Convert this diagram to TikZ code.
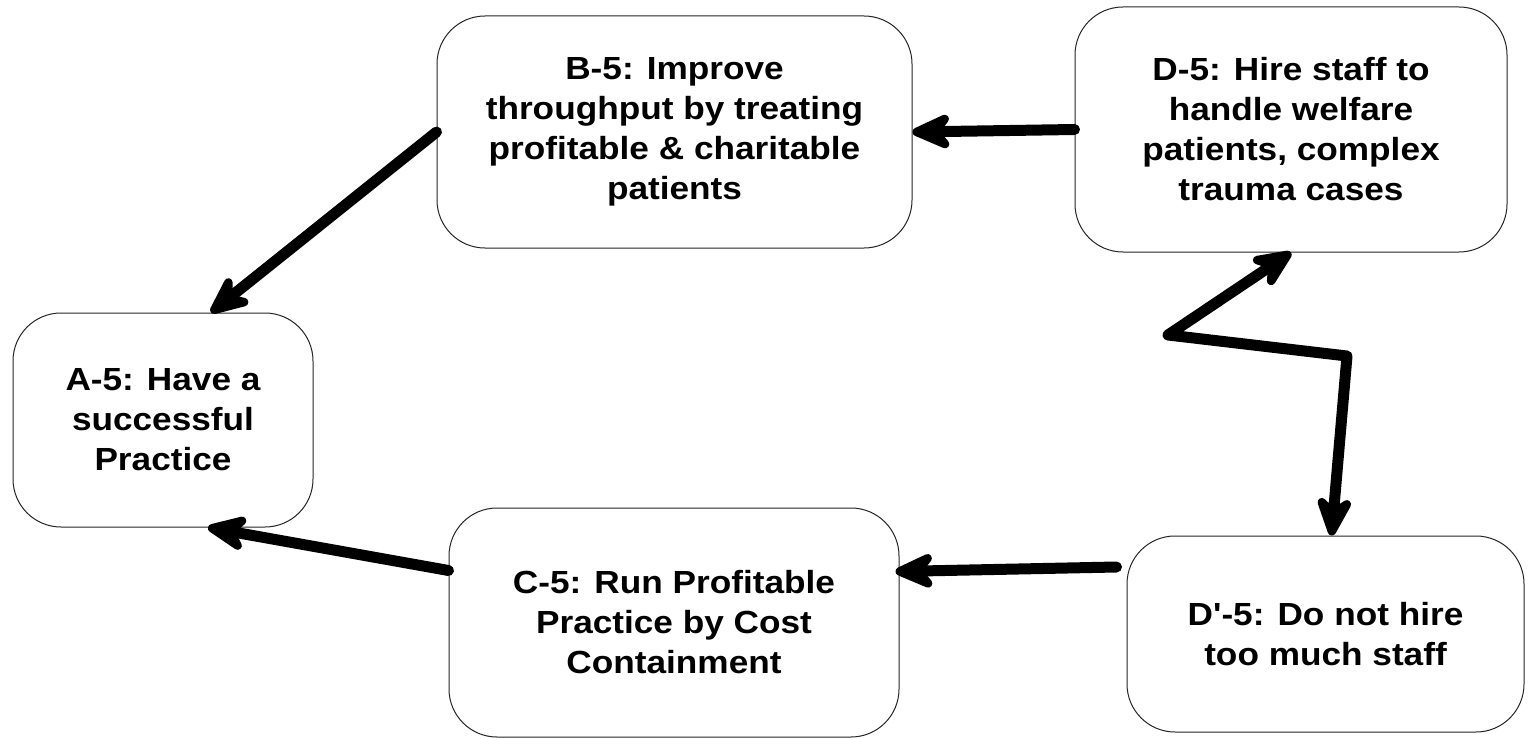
\documentclass[tikz,border=0pt]{standalone}
\usepackage{fontspec}
\setmainfont[FakeStretch=1.1,Ligatures=TeXOff]{Liberation Sans}
\usetikzlibrary{arrows.meta,calc}
\tikzset{bighead/.tip={Stealth[round,line width=10pt,length=52pt,width=46pt,inset=18pt]}}
\begin{document}
\begin{tikzpicture}[x=1pt,y=-1pt,
  box/.style={draw=black!85, line width=1pt, rounded corners=48pt, align=center,
    font=\fontsize{32}{40}\selectfont\bfseries, inner sep=0pt, fill=white},
  link/.style={line width=11pt, line cap=round, line join=round, -bighead},
]
\useasboundingbox (0,0) rectangle (1533,738);

% goal boxes
\node[box, minimum width=300pt, minimum height=214pt] (A) at (163,420)
  {A-5: Have a\\successful\\Practice};
\node[box, minimum width=475pt, minimum height=232pt] (B) at (674.5,132)
  {B-5: Improve\\throughput by treating\\profitable \& charitable\\patients};
\node[box, minimum width=432pt, minimum height=245pt] (D) at (1291,129.5)
  {D-5: Hire staff to\\handle welfare\\patients, complex\\trauma cases};
\node[box, minimum width=450pt, minimum height=229pt] (C) at (674,622.5)
  {C-5: Run Profitable\\Practice by Cost\\Containment};
\node[box, minimum width=397pt, minimum height=196pt] (Dp) at (1325.5,634)
  {D'-5: Do not hire\\too much staff};

% bends of the conflict arrow
\coordinate (z1) at (1347,356);
\coordinate (z2) at (1168,335);

% connectors
\draw[link] (D.west) -- (B.east);
\draw[link] (B.west) -- ($(A.north)+(48,0)$);
\draw[link] ($(C.west)+(0,-52)$) -- ($(A.south)+(45,0)$);
\draw[link] ($(Dp.west)+(-10,-67)$) -- ($(C.east)+(-4,-51)$);
\draw[link, bighead-bighead] ($(Dp.north)+(6,0)$) -- (z1) -- (z2) -- (D.south);
\end{tikzpicture}
\end{document}
